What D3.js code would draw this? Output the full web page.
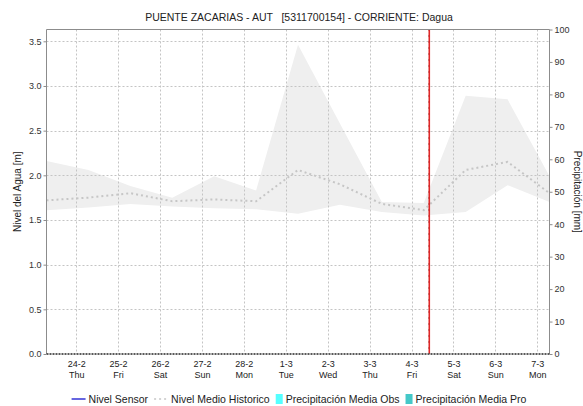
<!DOCTYPE html>
<html>
<head>
<meta charset="utf-8">
<script src="https://cdn.jsdelivr.net/npm/d3@7"></script>
<style>
  html, body { margin: 0; padding: 0; background: #fff; }
  svg { display: block; font-family: "Liberation Sans", Arial, sans-serif; }
</style>
</head>
<body>
<svg id="chart" width="583" height="406"></svg>
<script>
// Daily readings (07:00) for the station
const days = [
  "2022-02-23 07:00", "2022-02-24 07:00", "2022-02-25 07:00", "2022-02-26 07:00",
  "2022-02-27 07:00", "2022-02-28 07:00", "2022-03-01 07:00", "2022-03-02 07:00",
  "2022-03-03 07:00", "2022-03-04 07:00", "2022-03-05 07:00", "2022-03-06 07:00",
  "2022-03-07 07:00"
];
// Historic envelope of water level [m]
const nivelMax = [2.16, 2.06, 1.88, 1.75, 1.99, 1.83, 3.46, 2.58, 1.70, 1.69, 2.89, 2.85, 1.99];
const nivelMin = [1.61, 1.64, 1.68, 1.65, 1.63, 1.62, 1.57, 1.67, 1.59, 1.55, 1.59, 1.89, 1.70];
// Historic mean water level [m]
const nivelMedio = [1.72, 1.75, 1.80, 1.71, 1.73, 1.71, 2.06, 1.90, 1.68, 1.61, 2.06, 2.15, 1.80];
// Sensor level and precipitation series (no values reported in this period)
const nivelSensor = [];
const precipObs = [];
const precipPro = [];
// Current time marker
const ahora = "2022-03-04 10:10";

const leftTicks = [0, 0.5, 1.0, 1.5, 2.0, 2.5, 3.0, 3.5];
const rightTicks = [0, 10, 20, 30, 40, 50, 60, 70, 80, 90, 100];

const parse = d3.timeParse("%Y-%m-%d %H:%M");
const svg = d3.select("#chart");

const plot = { left: 46.5, right: 549.5, top: 29.5, bottom: 354 };

const x = d3.scaleTime()
  .domain([parse(days[0]), parse(days[days.length - 1])])
  .range([plot.left, plot.right]);
const yL = d3.scaleLinear()
  .domain([0, 3.5 * (plot.bottom - plot.top) / (plot.bottom - 41.3)])
  .range([plot.bottom, plot.top]);
const yR = d3.scaleLinear().domain([0, 100]).range([plot.bottom, plot.top]);

const rows = days.map((d, i) => ({
  t: parse(d), hi: nivelMax[i], lo: nivelMin[i], med: nivelMedio[i]
}));

// Historic envelope
svg.append("path")
  .datum(rows)
  .attr("fill", "#efefef")
  .attr("d", d3.area().x(d => x(d.t)).y0(d => yL(d.lo)).y1(d => yL(d.hi)));

// Grid lines
const dayTicks = d3.timeDay.range(d3.timeDay.ceil(x.domain()[0]), x.domain()[1]);
svg.append("g").selectAll("line").data(dayTicks).join("line")
  .attr("x1", d => Math.round(x(d)) + 0.5).attr("x2", d => Math.round(x(d)) + 0.5)
  .attr("y1", plot.top).attr("y2", plot.bottom)
  .attr("stroke", "#c4c4c4").attr("stroke-dasharray", "2,2");
svg.append("g").selectAll("line").data(leftTicks.filter(v => v > 0)).join("line")
  .attr("x1", plot.left).attr("x2", plot.right)
  .attr("y1", d => Math.round(yL(d)) + 0.5).attr("y2", d => Math.round(yL(d)) + 0.5)
  .attr("stroke", "#c4c4c4").attr("stroke-dasharray", "2,2");

// Historic mean level
svg.append("path")
  .datum(rows)
  .attr("fill", "none")
  .attr("stroke", "#c6c6c6")
  .attr("stroke-width", 2)
  .attr("stroke-dasharray", "2,3")
  .attr("d", d3.line().x(d => x(d.t)).y(d => yL(d.med)));

// Sensor level
svg.append("path")
  .datum(nivelSensor)
  .attr("fill", "none").attr("stroke", "#0000cc")
  .attr("d", d3.line().x(d => x(parse(d[0]))).y(d => yL(d[1])));

// Precipitation bars
svg.append("g").selectAll("rect").data(precipObs).join("rect")
  .attr("fill", "#55ffff");
svg.append("g").selectAll("rect").data(precipPro).join("rect")
  .attr("fill", "#44c8c8");

// Current time marker
const xNow = x(parse(ahora));
svg.append("line")
  .attr("x1", xNow).attr("x2", xNow).attr("y1", plot.top).attr("y2", plot.bottom)
  .attr("stroke", "#e02828").attr("stroke-width", 1.6);
svg.append("line")
  .attr("x1", xNow - 0.5).attr("x2", xNow - 0.5).attr("y1", plot.top).attr("y2", plot.bottom)
  .attr("stroke", "#8a1010").attr("stroke-width", 0.8).attr("stroke-dasharray", "1,5");

// Frame
svg.append("path")
  .attr("d", `M${plot.left},${plot.bottom}V${plot.top}H${plot.right}V${plot.bottom}`)
  .attr("fill", "none").attr("stroke", "#8c8c8c");
svg.append("line")
  .attr("x1", plot.left).attr("x2", plot.right)
  .attr("y1", plot.bottom).attr("y2", plot.bottom)
  .attr("stroke", "#5a5a5a").attr("stroke-width", 2).attr("stroke-dasharray", "2,1");

// Axes
const axL = svg.append("g").attr("transform", `translate(${plot.left},0)`)
  .call(d3.axisLeft(yL).tickValues(leftTicks).tickFormat(d3.format(".1f")).tickSize(3).tickPadding(2));
const axR = svg.append("g").attr("transform", `translate(${plot.right},0)`)
  .call(d3.axisRight(yR).tickValues(rightTicks).tickSize(3).tickPadding(2));
const axB = svg.append("g").attr("transform", `translate(0,${plot.bottom})`)
  .call(d3.axisBottom(x).tickValues(dayTicks).tickSize(0).tickFormat(""));
[axL, axR].forEach(g => {
  g.select(".domain").remove();
  g.selectAll(".tick line").attr("stroke", "#8c8c8c");
  g.selectAll(".tick text").attr("font-size", 9).attr("fill", "#333")
    .attr("font-family", "Liberation Sans, Arial, sans-serif");
});
axB.select(".domain").remove();
const fmtD = d3.timeFormat("%-d-%-m");
const fmtW = d3.timeFormat("%a");
axB.selectAll(".tick").each(function(d) {
  const t = d3.select(this);
  t.select("text").remove();
  t.append("text").attr("y", 13).attr("text-anchor", "middle")
    .attr("font-size", 9).attr("fill", "#222").text(fmtD(d));
  t.append("text").attr("y", 24).attr("text-anchor", "middle")
    .attr("font-size", 9).attr("fill", "#222").text(fmtW(d));
});

// Title
svg.append("text")
  .attr("x", 299).attr("y", 20.5).attr("text-anchor", "middle")
  .attr("font-size", 10.5).attr("fill", "#222").style("white-space", "pre")
  .text("PUENTE ZACARIAS - AUT   [5311700154] - CORRIENTE: Dagua");

// Axis titles
svg.append("text")
  .attr("transform", `translate(21,${(plot.top + plot.bottom) / 2}) rotate(-90)`)
  .attr("text-anchor", "middle").attr("font-size", 10).attr("fill", "#222")
  .text("Nivel del Agua [m]");
svg.append("text")
  .attr("transform", `translate(574,${(plot.top + plot.bottom) / 2}) rotate(90)`)
  .attr("text-anchor", "middle").attr("font-size", 10).attr("fill", "#222")
  .text("Precipitación [mm]");

// Legend
const legendItems = [
  { label: "Nivel Sensor", kind: "line", color: "#0000cc" },
  { label: "Nivel Medio Historico", kind: "dash", color: "#c6c6c6" },
  { label: "Precipitación Media Obs", kind: "box", color: "#55ffff" },
  { label: "Precipitación Media Pro", kind: "box", color: "#44c8c8" }
];
const lg = svg.append("g");
let cx = 0;
const ly = 399;
legendItems.forEach(it => {
  const sw = it.kind === "box" ? 7 : 14;
  if (it.kind === "box") {
    lg.append("rect").attr("x", cx).attr("y", ly - 5).attr("width", sw).attr("height", 10)
      .attr("fill", it.color);
  } else {
    lg.append("line").attr("x1", cx).attr("x2", cx + sw).attr("y1", ly).attr("y2", ly)
      .attr("stroke", it.color).attr("stroke-width", it.kind === "dash" ? 1.5 : 1.2)
      .attr("stroke-dasharray", it.kind === "dash" ? "2,3" : null);
  }
  const tx = lg.append("text").attr("x", cx + sw + 3).attr("y", ly + 4)
    .attr("font-size", 10.5).attr("fill", "#222").text(it.label);
  cx += sw + 3 + tx.node().getComputedTextLength() + 6;
});
const lw = cx - 6;
lg.attr("transform", `translate(${299 - lw / 2},0)`);
</script>
</body>
</html>
